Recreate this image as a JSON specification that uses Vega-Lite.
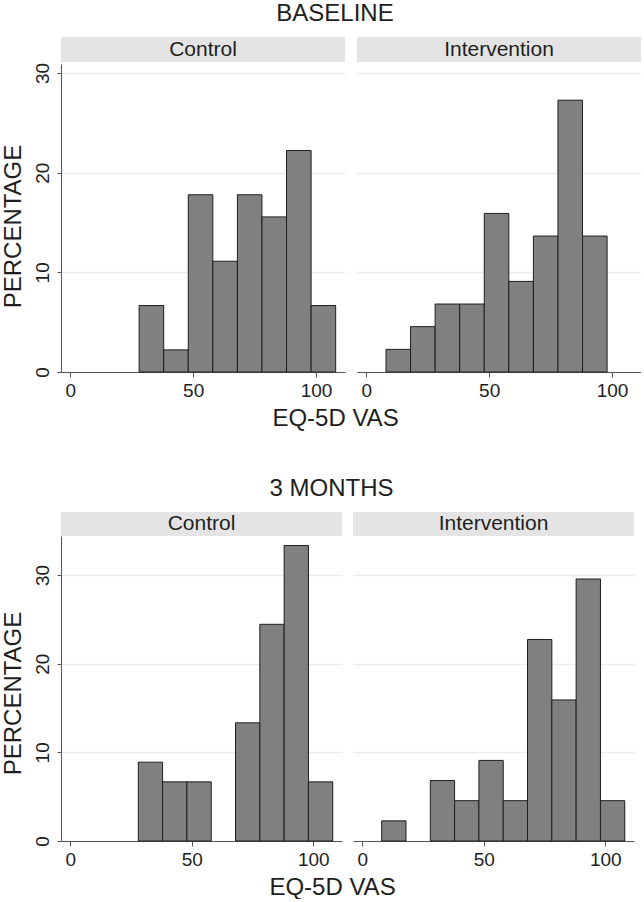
{
  "$schema": "https://vega.github.io/schema/vega-lite/v6.json",
  "padding": {"left": 1, "top": 2, "right": 0, "bottom": 0},
  "background": "white",
  "datasets": {
    "h": [
      {"time": "BASELINE", "group": "Control", "lo": 28, "hi": 38, "pct": 6.67},
      {"time": "BASELINE", "group": "Control", "lo": 38, "hi": 48, "pct": 2.22},
      {"time": "BASELINE", "group": "Control", "lo": 48, "hi": 58, "pct": 17.78},
      {"time": "BASELINE", "group": "Control", "lo": 58, "hi": 68, "pct": 11.11},
      {"time": "BASELINE", "group": "Control", "lo": 68, "hi": 78, "pct": 17.78},
      {"time": "BASELINE", "group": "Control", "lo": 78, "hi": 88, "pct": 15.56},
      {"time": "BASELINE", "group": "Control", "lo": 88, "hi": 98, "pct": 22.22},
      {"time": "BASELINE", "group": "Control", "lo": 98, "hi": 108, "pct": 6.67},
      {"time": "BASELINE", "group": "Intervention", "lo": 8, "hi": 18, "pct": 2.27},
      {"time": "BASELINE", "group": "Intervention", "lo": 18, "hi": 28, "pct": 4.55},
      {"time": "BASELINE", "group": "Intervention", "lo": 28, "hi": 38, "pct": 6.82},
      {"time": "BASELINE", "group": "Intervention", "lo": 38, "hi": 48, "pct": 6.82},
      {"time": "BASELINE", "group": "Intervention", "lo": 48, "hi": 58, "pct": 15.91},
      {"time": "BASELINE", "group": "Intervention", "lo": 58, "hi": 68, "pct": 9.09},
      {"time": "BASELINE", "group": "Intervention", "lo": 68, "hi": 78, "pct": 13.64},
      {"time": "BASELINE", "group": "Intervention", "lo": 78, "hi": 88, "pct": 27.27},
      {"time": "BASELINE", "group": "Intervention", "lo": 88, "hi": 98, "pct": 13.64},
      {"time": "3 MONTHS", "group": "Control", "lo": 28, "hi": 38, "pct": 8.89},
      {"time": "3 MONTHS", "group": "Control", "lo": 38, "hi": 48, "pct": 6.67},
      {"time": "3 MONTHS", "group": "Control", "lo": 48, "hi": 58, "pct": 6.67},
      {"time": "3 MONTHS", "group": "Control", "lo": 68, "hi": 78, "pct": 13.33},
      {"time": "3 MONTHS", "group": "Control", "lo": 78, "hi": 88, "pct": 24.44},
      {"time": "3 MONTHS", "group": "Control", "lo": 88, "hi": 98, "pct": 33.33},
      {"time": "3 MONTHS", "group": "Control", "lo": 98, "hi": 108, "pct": 6.67},
      {"time": "3 MONTHS", "group": "Intervention", "lo": 8, "hi": 18, "pct": 2.27},
      {"time": "3 MONTHS", "group": "Intervention", "lo": 28, "hi": 38, "pct": 6.82},
      {"time": "3 MONTHS", "group": "Intervention", "lo": 38, "hi": 48, "pct": 4.55},
      {"time": "3 MONTHS", "group": "Intervention", "lo": 48, "hi": 58, "pct": 9.09},
      {"time": "3 MONTHS", "group": "Intervention", "lo": 58, "hi": 68, "pct": 4.55},
      {"time": "3 MONTHS", "group": "Intervention", "lo": 68, "hi": 78, "pct": 22.73},
      {"time": "3 MONTHS", "group": "Intervention", "lo": 78, "hi": 88, "pct": 15.91},
      {"time": "3 MONTHS", "group": "Intervention", "lo": 88, "hi": 98, "pct": 29.55},
      {"time": "3 MONTHS", "group": "Intervention", "lo": 98, "hi": 108, "pct": 4.55}
    ],
    "stripsA": [{"label": "Control"}],
    "stripsB": [{"label": "Intervention"}]
  },
  "spacing": 47,
  "vconcat": [
    {
      "title": {"text": "BASELINE", "dx": 14},
      "spacing": 0,
      "vconcat": [
        {
          "bounds": "flush",
          "spacing": 12,
          "hconcat": [
            {
              "width": 284, "height": 25,
              "view": {"fill": "#e4e4e4", "stroke": null},
              "data": {"name": "stripsA"},
              "mark": {"type": "text", "fontSize": 21, "color": "#1e1e1e", "baseline": "middle"},
              "encoding": {"text": {"field": "label", "type": "nominal"}}
            },
            {
              "width": 284, "height": 25,
              "view": {"fill": "#e4e4e4", "stroke": null},
              "data": {"name": "stripsB"},
              "mark": {"type": "text", "fontSize": 21, "color": "#1e1e1e", "baseline": "middle"},
              "encoding": {"text": {"field": "label", "type": "nominal"}}
            }
          ]
        },
        {
          "bounds": "flush",
          "spacing": 12,
          "hconcat": [
            {
              "width": 284, "height": 308,
              "data": {"name": "h"},
              "transform": [{"filter": "datum.time === 'BASELINE' && datum.group === 'Control'"}],
              "mark": {"type": "rect", "fill": "#808080", "stroke": "#1e1e1e", "strokeWidth": 1},
              "encoding": {
                "x": {"field": "lo", "type": "quantitative",
                      "scale": {"domain": [-3.8, 111.8], "nice": false, "zero": false},
                      "axis": {"values": [0, 50, 100], "title": "EQ-5D VAS", "titleX": 274, "grid": false}},
                "x2": {"field": "hi"},
                "y": {"field": "pct", "type": "quantitative",
                      "scale": {"domain": [0, 30.9], "nice": false},
                      "axis": {"values": [0, 10, 20, 30], "title": "PERCENTAGE", "titleY": 162, "labelAngle": 270, "labelAlign": "center", "labelBaseline": "bottom", "grid": true}},
                "y2": {"datum": 0}
              }
            },
            {
              "width": 284, "height": 308,
              "data": {"name": "h"},
              "transform": [{"filter": "datum.time === 'BASELINE' && datum.group === 'Intervention'"}],
              "mark": {"type": "rect", "fill": "#808080", "stroke": "#1e1e1e", "strokeWidth": 1},
              "encoding": {
                "x": {"field": "lo", "type": "quantitative",
                      "scale": {"domain": [-3.8, 111.8], "nice": false, "zero": false},
                      "axis": {"values": [0, 50, 100], "title": null, "grid": false}},
                "x2": {"field": "hi"},
                "y": {"field": "pct", "type": "quantitative",
                      "scale": {"domain": [0, 30.9], "nice": false},
                      "axis": {"values": [0, 10, 20, 30], "title": null, "labels": false, "ticks": false, "domain": false, "grid": true}},
                "y2": {"datum": 0}
              }
            }
          ]
        }
      ]
    },
    {
      "title": {"text": "3 MONTHS", "dx": 14},
      "spacing": 0,
      "vconcat": [
        {
          "bounds": "flush",
          "spacing": 11,
          "hconcat": [
            {
              "width": 281, "height": 24,
              "view": {"fill": "#e4e4e4", "stroke": null},
              "data": {"name": "stripsA"},
              "mark": {"type": "text", "fontSize": 21, "color": "#1e1e1e", "baseline": "middle"},
              "encoding": {"text": {"field": "label", "type": "nominal"}}
            },
            {
              "width": 281, "height": 24,
              "view": {"fill": "#e4e4e4", "stroke": null},
              "data": {"name": "stripsB"},
              "mark": {"type": "text", "fontSize": 21, "color": "#1e1e1e", "baseline": "middle"},
              "encoding": {"text": {"field": "label", "type": "nominal"}}
            }
          ]
        },
        {
          "bounds": "flush",
          "spacing": 11,
          "hconcat": [
            {
              "width": 281, "height": 305,
              "data": {"name": "h"},
              "transform": [{"filter": "datum.time === '3 MONTHS' && datum.group === 'Control'"}],
              "mark": {"type": "rect", "fill": "#808080", "stroke": "#1e1e1e", "strokeWidth": 1},
              "encoding": {
                "x": {"field": "lo", "type": "quantitative",
                      "scale": {"domain": [-3.8, 111.8], "nice": false, "zero": false},
                      "axis": {"values": [0, 50, 100], "title": "EQ-5D VAS", "titleX": 271, "grid": false}},
                "x2": {"field": "hi"},
                "y": {"field": "pct", "type": "quantitative",
                      "scale": {"domain": [0, 34.4], "nice": false},
                      "axis": {"values": [0, 10, 20, 30], "title": "PERCENTAGE", "titleY": 157, "labelAngle": 270, "labelAlign": "center", "labelBaseline": "bottom", "grid": true}},
                "y2": {"datum": 0}
              }
            },
            {
              "width": 281, "height": 305,
              "data": {"name": "h"},
              "transform": [{"filter": "datum.time === '3 MONTHS' && datum.group === 'Intervention'"}],
              "mark": {"type": "rect", "fill": "#808080", "stroke": "#1e1e1e", "strokeWidth": 1},
              "encoding": {
                "x": {"field": "lo", "type": "quantitative",
                      "scale": {"domain": [-3.8, 111.8], "nice": false, "zero": false},
                      "axis": {"values": [0, 50, 100], "title": null, "grid": false}},
                "x2": {"field": "hi"},
                "y": {"field": "pct", "type": "quantitative",
                      "scale": {"domain": [0, 34.4], "nice": false},
                      "axis": {"values": [0, 10, 20, 30], "title": null, "labels": false, "ticks": false, "domain": false, "grid": true}},
                "y2": {"datum": 0}
              }
            }
          ]
        }
      ]
    }
  ],
  "config": {
    "font": "Liberation Sans",
    "view": {"stroke": null},
    "title": {"fontSize": 24, "fontWeight": "normal", "color": "#1e1e1e", "anchor": "middle", "frame": "bounds", "offset": 11},
    "axis": {
      "domainColor": "#555555",
      "tickColor": "#555555",
      "tickSize": 5,
      "labelFontSize": 19,
      "labelColor": "#1e1e1e",
      "labelPadding": 4,
      "titleFontSize": 24,
      "titleFontWeight": "normal",
      "titleColor": "#1e1e1e",
      "titlePadding": 6,
      "gridColor": "#ececec",
      "gridWidth": 1.5
    },
    "axisY": {"tickSize": 4, "labelPadding": 5, "titlePadding": 8}
  }
}
